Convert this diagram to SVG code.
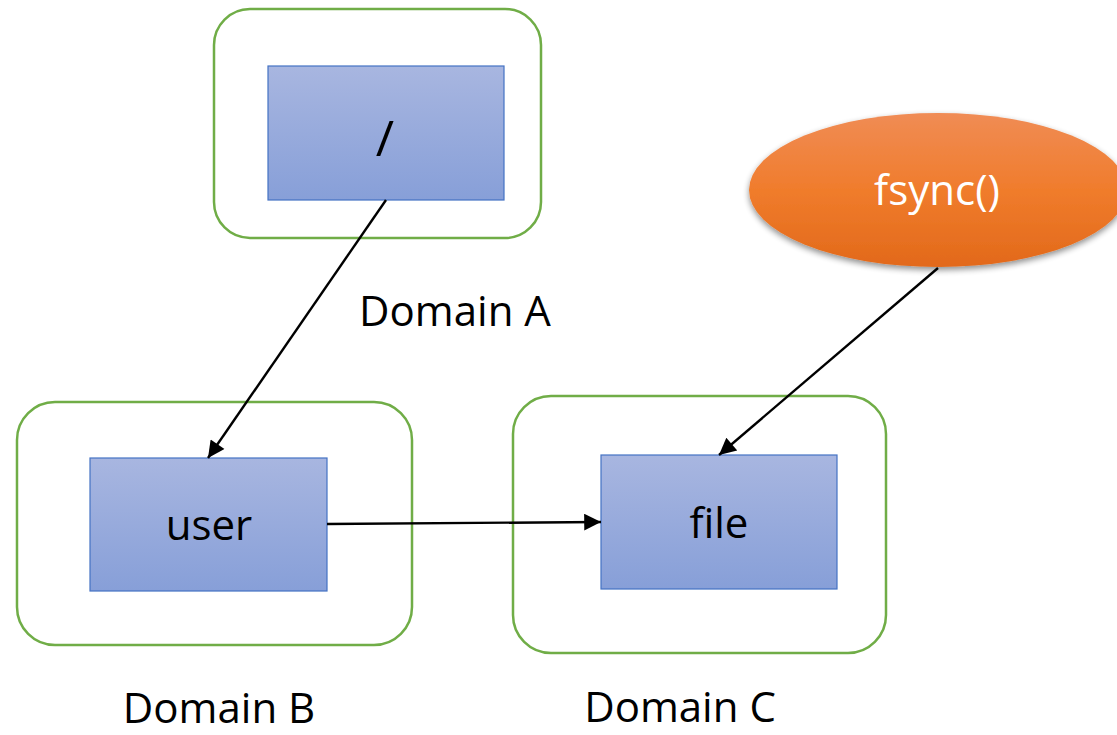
<svg xmlns="http://www.w3.org/2000/svg" width="1117" height="735" viewBox="0 0 1117 735">
  <defs>
    <linearGradient id="blueFill" x1="0" y1="0" x2="0" y2="1">
      <stop offset="0" stop-color="#a8b6e0"/>
      <stop offset="1" stop-color="#879fd8"/>
    </linearGradient>
    <linearGradient id="orangeFill" x1="0" y1="0" x2="0" y2="1">
      <stop offset="0" stop-color="#f08c55"/>
      <stop offset="0.5" stop-color="#f07c2c"/>
      <stop offset="1" stop-color="#e2691a"/>
    </linearGradient>
    <filter id="shadow" x="-10%" y="-10%" width="120%" height="130%">
      <feGaussianBlur in="SourceAlpha" stdDeviation="3"/>
      <feOffset dx="0" dy="3" result="b"/>
      <feComponentTransfer><feFuncA type="linear" slope="0.45"/></feComponentTransfer>
      <feMerge><feMergeNode/><feMergeNode in="SourceGraphic"/></feMerge>
    </filter>
    <marker id="arrow" viewBox="0 0 10 10" refX="10" refY="5" markerWidth="8" markerHeight="7" orient="auto" markerUnits="strokeWidth">
      <path d="M0,0 L10,5 L0,10 z" fill="#000"/>
    </marker>
  </defs>
  <style>
    .domain { fill: #fff; stroke: #70ad47; stroke-width: 2.5; }
    .box { fill: url(#blueFill); stroke: #4472c4; stroke-width: 1.2; }
    .label { font-family: "Open Sans", "Liberation Sans", sans-serif; font-size: 42px; fill: #000; text-anchor: middle; }
    .conn { stroke: #000; stroke-width: 2.4; fill: none; marker-end: url(#arrow); }
  </style>
  <rect width="1117" height="735" fill="#fff"/>

  <g id="domainA">
    <rect class="domain" x="214" y="9" width="327" height="229" rx="36"/>
    <rect class="box" x="268" y="66" width="236" height="134"/>
    <text class="label" x="385" y="156" style="font-size:50px">/</text>
    <text class="label" x="455" y="326">Domain A</text>
  </g>

  <g id="domainB">
    <rect class="domain" x="17" y="402" width="395" height="243" rx="38"/>
    <rect class="box" x="90" y="458" width="237" height="133"/>
    <text class="label" x="209" y="540">user</text>
    <text class="label" x="219" y="723">Domain B</text>
  </g>

  <g id="domainC">
    <rect class="domain" x="513" y="396" width="373" height="257" rx="38"/>
    <rect class="box" x="601" y="455" width="236" height="134"/>
    <text class="label" x="719" y="538">file</text>
    <text class="label" x="680" y="722">Domain C</text>
  </g>

  <g id="fsync">
    <ellipse cx="938" cy="190" rx="189" ry="77" fill="url(#orangeFill)" filter="url(#shadow)"/>
    <text class="label" x="937" y="205" style="fill:#fff">fsync()</text>
  </g>

  <g id="connectors">
    <line class="conn" x1="386" y1="200" x2="208" y2="458"/>
    <line class="conn" x1="327" y1="524" x2="601" y2="522"/>
    <line class="conn" x1="938" y1="268" x2="719" y2="455"/>
  </g>
</svg>
